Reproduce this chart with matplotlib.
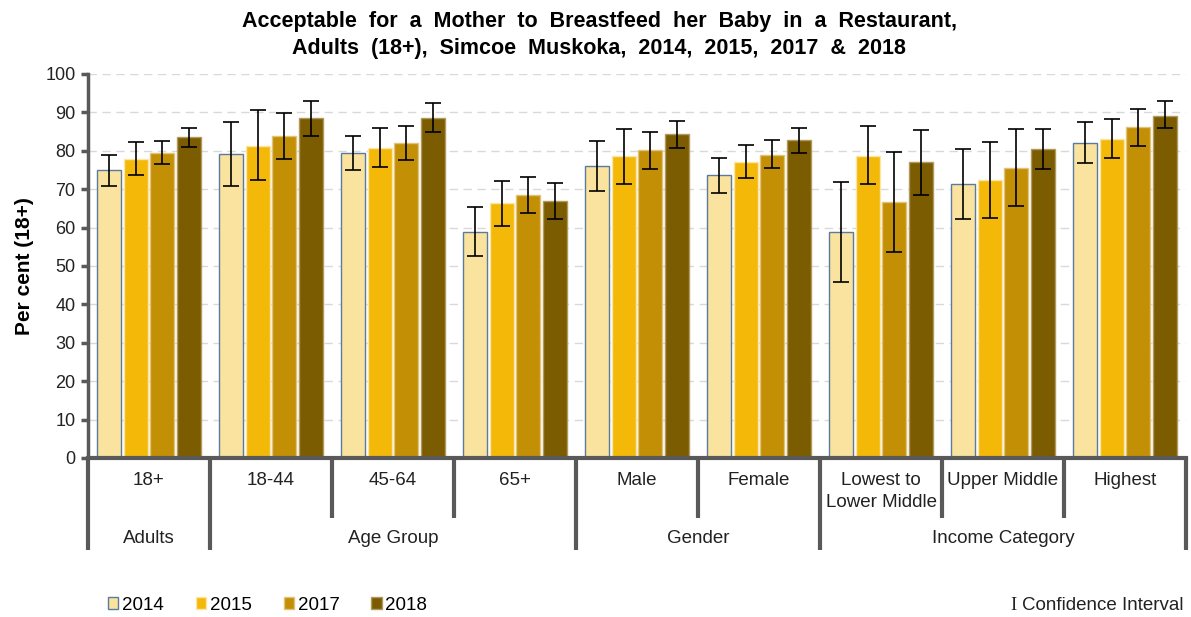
import numpy as np
import matplotlib
matplotlib.use("Agg")
import matplotlib.pyplot as plt
from matplotlib.patches import Patch

plt.rcParams["font.family"] = ["Liberation Sans", "DejaVu Sans"]

categories = ["18+", "18-44", "45-64", "65+", "Male", "Female",
              "Lowest to\nLower Middle", "Upper Middle", "Highest"]
groups = ["Adults", "Age Group", "Gender", "Income Category"]
group_sizes = [1, 3, 2, 3]
years = ["2014", "2015", "2017", "2018"]

v2014 = [75.0, 79.2, 79.4, 58.9, 76.1, 73.7, 58.9, 71.4, 82.1]
v2015 = [77.8, 81.3, 80.7, 66.3, 78.6, 77.2, 78.6, 72.4, 83.2]
v2017 = [79.5, 83.8, 82.0, 68.4, 80.1, 78.9, 66.6, 75.6, 86.2]
v2018 = [83.5, 88.6, 88.6, 66.8, 84.4, 82.8, 77.2, 80.4, 89.1]

lo2014 = [70.8, 70.8, 75.0, 52.7, 69.5, 68.9, 45.8, 62.2, 76.7]
hi2014 = [78.9, 87.6, 83.9, 65.4, 82.6, 78.2, 72.0, 80.4, 87.6]
lo2015 = [73.8, 72.3, 75.8, 60.5, 71.4, 72.8, 71.4, 62.6, 78.2]
hi2015 = [82.2, 90.6, 86.0, 72.2, 85.8, 81.5, 86.4, 82.2, 88.2]
lo2017 = [76.5, 77.9, 77.7, 63.8, 75.3, 75.6, 53.6, 65.6, 81.3]
hi2017 = [82.6, 89.8, 86.4, 73.2, 85.0, 82.8, 79.8, 85.8, 90.9]
lo2018 = [80.9, 83.9, 84.9, 62.3, 80.6, 79.5, 68.6, 75.3, 85.9]
hi2018 = [86.0, 93.0, 92.4, 71.6, 87.8, 86.0, 85.4, 85.8, 93.0]

values = [v2014, v2015, v2017, v2018]
lows = [lo2014, lo2015, lo2017, lo2018]
highs = [hi2014, hi2015, hi2017, hi2018]

colors = ["#FAE39E", "#F3B808", "#C38F05", "#7C5C00"]
edges = ["#5A7A9E", "#FBE6A8", "#E0C27A", "#B09A60"]

fig = plt.figure(figsize=(11.91, 6.17), dpi=100)
ax = fig.add_axes([88 / 1191, (617 - 458) / 617, (1186 - 88) / 1191, 384 / 617])

x = np.arange(len(categories))
slot = 0.221
width = 0.197
for j in range(4):
    xs = x + (j - 1.5) * slot
    vals = np.array(values[j])
    err = [vals - np.array(lows[j]), np.array(highs[j]) - vals]
    ax.bar(xs, vals, width, color=colors[j], edgecolor=edges[j], linewidth=1.0,
           label=years[j], zorder=2)
    ax.errorbar(xs, vals, yerr=err, fmt="none", ecolor="black", elinewidth=1.2,
                capsize=5.5, capthick=1.2, zorder=3)

ax.set_xlim(-0.5, len(categories) - 0.5)
ax.set_ylim(0, 100)
ax.set_yticks(range(0, 101, 10))
ax.tick_params(axis="y", labelsize=13, direction="out", length=5, width=2.5,
               color="#595959", pad=4, labelcolor="#222222")
ax.set_xticks([])
ax.yaxis.grid(True, color="#D9D9D9", linestyle=(0, (6, 4)), linewidth=1)
ax.set_axisbelow(True)
for s in ["top", "right"]:
    ax.spines[s].set_visible(False)
ax.spines["left"].set_color("#595959")
ax.spines["left"].set_linewidth(2.5)
ax.spines["bottom"].set_color("#595959")
ax.spines["bottom"].set_linewidth(3)

ax.set_ylabel("Per cent (18+)", fontsize=15, fontweight="bold", labelpad=8)

trans = ax.get_xaxis_transform()
# category labels and short dividers
for i, c in enumerate(categories):
    ax.text(i, -0.036, c, transform=trans, ha="center", va="top", fontsize=13.5,
            linespacing=1.4, color="#222222")
bounds = np.cumsum([0] + group_sizes) - 0.5
for b in np.arange(-0.5, len(categories)):
    major = b in bounds
    ax.plot([b, b], [0, -0.24 if major else -0.155], transform=trans,
            color="#595959", linewidth=3, clip_on=False, solid_capstyle="butt")
for g, start, n in zip(groups, bounds[:-1], group_sizes):
    ax.text(start + n / 2, -0.21, g, transform=trans, ha="center", va="center",
            fontsize=13.5, color="#222222")

fig.text(0.503, 1 - 11 / 617,
         "Acceptable  for  a  Mother  to  Breastfeed  her  Baby  in  a  Restaurant,\n"
         "Adults  (18+),  Simcoe  Muskoka,  2014,  2015,  2017  &  2018",
         ha="center", va="top", fontsize=15.5, fontweight="bold", linespacing=1.38)

handles = [Patch(facecolor=colors[j], edgecolor=edges[j], label=years[j]) for j in range(4)]
fig.legend(handles=handles, loc="center left", bbox_to_anchor=(108 / 1191, 1 - 605 / 617),
           ncol=4, frameon=False, fontsize=13.5, handlelength=0.55, handleheight=0.55,
           handletextpad=0.2, columnspacing=1.7, borderpad=0, borderaxespad=0)
ci = fig.text(1184 / 1191, 1 - 605 / 617, "Confidence Interval", ha="right", va="center",
              fontsize=13.5, color="#222222")
ax.annotate("I", xy=(0, 0.5), xycoords=ci, xytext=(-4, 0), textcoords="offset points",
            ha="right", va="center", fontsize=13.5, family="Liberation Serif",
            color="#222222", annotation_clip=False)

fig.savefig("out.png", dpi=100)
